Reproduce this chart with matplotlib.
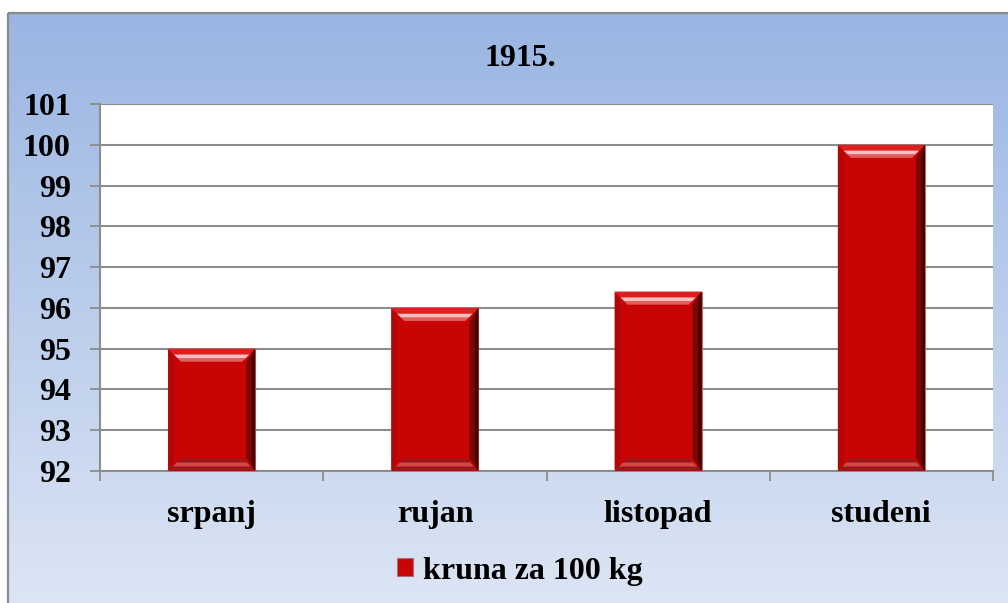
import numpy as np
import matplotlib
matplotlib.use("Agg")
import matplotlib.pyplot as plt
from matplotlib.patches import Polygon, Rectangle

# data
months = ["srpanj", "rujan", "listopad", "studeni"]
prices = [95, 96, 96.4, 100]
series_name = "kruna za 100 kg"
title = "1915."
yticks = list(range(92, 102))

W, H = 1008, 603
plt.rcParams["font.family"] = "serif"
plt.rcParams["font.serif"] = ["Liberation Serif", "DejaVu Serif"]
plt.rcParams["font.weight"] = "bold"
FS = 23

fig = plt.figure(figsize=(W / 100, H / 100), dpi=100)
fig.patch.set_facecolor("white")

# background gradient with frame
bg = fig.add_axes([0, 0, 1, 1], zorder=-5)
bg.set_xlim(0, W)
bg.set_ylim(H, 0)
bg.axis("off")
grad = np.linspace(0, 1, 256)[:, None]
c_top = np.array([0x9a, 0xb5, 0xe3]) / 255
c_bot = np.array([0xdc, 0xe5, 0xf4]) / 255
img = c_top + (c_bot - c_top) * grad[:, :, None]
bg.imshow(img, extent=[8, W + 2, H + 2, 13], aspect="auto", interpolation="bilinear")
bg.add_patch(Rectangle((8, 13), W, H, fill=False, edgecolor="#8a8a8a", lw=1.6))

# plot area
left, right, top, bottom = 100, 993, 104, 471
ax = fig.add_axes([left / W, (H - bottom) / H, (right - left) / W, (bottom - top) / H])
ax.set_facecolor("white")

x = np.arange(len(months))
bars = ax.bar(x, np.array(prices) - 92, bottom=92, width=0.39, color="#c80404",
              edgecolor="#b07070", linewidth=0.8, zorder=3, label=series_name)

ax.set_xlim(-0.5, len(months) - 0.5)
ax.set_ylim(92, 101)
ax.set_yticks(yticks)
ax.yaxis.grid(True, color="#8c8c8c", lw=1.5, zorder=0)
ax.set_axisbelow(True)
for s in ["top", "right"]:
    ax.spines[s].set_visible(False)
for s in ["left", "bottom"]:
    ax.spines[s].set_color("#8c8c8c")
    ax.spines[s].set_linewidth(1.5)

ax.tick_params(axis="y", length=7, width=1.3, color="#8c8c8c", labelsize=FS, pad=14)
ax.set_xticks(x)
ax.set_xticklabels(months)
ax.tick_params(axis="x", which="major", length=0, labelsize=FS, pad=21)
ax.set_xticks(np.arange(-0.5, len(months)), minor=True)
ax.tick_params(axis="x", which="minor", length=7, width=1.3, color="#8c8c8c")

# bevel decoration on the bars
ux = (len(months)) / (right - left)      # data units per pixel, x
uy = (101 - 92) / (bottom - top)         # data units per pixel, y
d = 13
for b in bars:
    x0, y0 = b.get_x(), b.get_y()
    x1, y1 = x0 + b.get_width(), y0 + b.get_height()
    dx, dy = d * ux, d * uy
    sx = 9 * ux
    # top bevel
    ax.add_patch(Polygon([(x0, y1), (x1, y1), (x1 - dx, y1 - dy), (x0 + dx, y1 - dy)],
                         closed=True, fc="#dc2020", ec="none", zorder=4))
    ax.add_patch(Polygon([(x0 + dx * 0.45, y1 - dy * 0.45), (x1 - dx * 0.45, y1 - dy * 0.45),
                          (x1 - dx * 0.75, y1 - dy * 0.75), (x0 + dx * 0.75, y1 - dy * 0.75)],
                         closed=True, fc="#f6c0c0", ec="none", zorder=4))
    ax.add_patch(Polygon([(x0 + dx * 0.75, y1 - dy * 0.75), (x1 - dx * 0.75, y1 - dy * 0.75),
                          (x1 - dx, y1 - dy), (x0 + dx, y1 - dy)],
                         closed=True, fc="#e06060", ec="none", zorder=4))
    # bottom bevel
    ax.add_patch(Polygon([(x0, y0), (x1, y0), (x1 - dx, y0 + dy), (x0 + dx, y0 + dy)],
                         closed=True, fc="#a01616", ec="none", zorder=4))
    ax.add_patch(Polygon([(x0 + dx * 0.35, y0 + dy * 0.35), (x1 - dx * 0.35, y0 + dy * 0.35),
                          (x1 - dx * 0.65, y0 + dy * 0.65), (x0 + dx * 0.65, y0 + dy * 0.65)],
                         closed=True, fc="#cc4a4a", ec="none", zorder=4))
    # right side shadow
    ax.add_patch(Polygon([(x1, y1), (x1, y0), (x1 - sx, y0 + dy), (x1 - sx, y1 - dy)],
                         closed=True, fc="#7a0606", ec="none", zorder=4))
    ax.add_patch(Polygon([(x1, y1), (x1, y0), (x1 - sx * 0.4, y0 + dy * 0.4), (x1 - sx * 0.4, y1 - dy * 0.4)],
                         closed=True, fc="#4a0202", ec="none", zorder=4))
    # left side
    ax.add_patch(Polygon([(x0, y1), (x0, y0), (x0 + sx * 0.6, y0 + dy * 0.6), (x0 + sx * 0.6, y1 - dy * 0.6)],
                         closed=True, fc="#b00808", ec="none", zorder=4))

fig.text(520 / W, (H - 59) / H, title, ha="center", va="center", fontsize=FS, fontweight="bold")

leg = fig.legend(handles=[bars], labels=[series_name], loc="center",
                 bbox_to_anchor=(520 / W, (H - 571) / H), frameon=False,
                 fontsize=FS, handlelength=0.5, handleheight=0.5, handletextpad=0.3)

fig.savefig("out.png", dpi=100)
